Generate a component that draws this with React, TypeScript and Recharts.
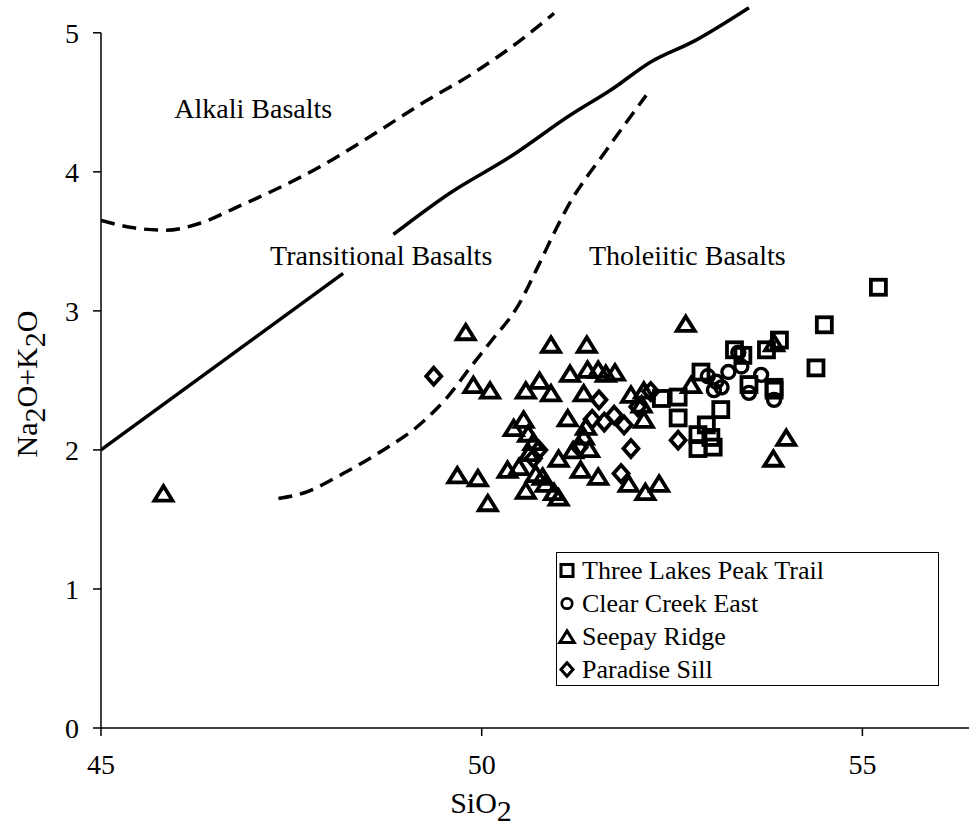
import React from 'react';
import { ScatterChart, Scatter, XAxis, YAxis, ReferenceLine, ReferenceDot, Legend } from 'recharts';

const FONT = 'Liberation Serif';

const xTicks = [45, 50, 55];
const yTicks = [0, 1, 2, 3, 4, 5];

const seriesNames = ['Three Lakes Peak Trail', 'Clear Creek East', 'Seepay Ridge', 'Paradise Sill'];

const threeLakesPeakTrail = [
  [55.21, 3.17], [54.5, 2.9], [54.39, 2.59], [53.91, 2.79], [53.84, 2.45], [53.32, 2.72],
  [53.43, 2.68], [53.74, 2.72], [52.88, 2.56], [53.51, 2.47], [53.14, 2.29], [52.95, 2.18],
  [52.84, 2.11], [53.01, 2.09], [52.84, 2.01], [53.04, 2.02], [52.58, 2.23], [52.58, 2.38],
  [52.36, 2.37], [53.84, 2.43],
];

const clearCreekEast = [
  [53.24, 2.56], [53.41, 2.6], [53.67, 2.54], [53.51, 2.41], [53.84, 2.36], [53.05, 2.43],
  [53.08, 2.49], [52.97, 2.53], [53.37, 2.7], [53.15, 2.45],
];

const seepayRidge = [
  [45.82, 1.69], [49.79, 2.85], [50.91, 2.76], [51.38, 2.76], [49.89, 2.47], [50.11, 2.43],
  [50.58, 2.43], [50.76, 2.5], [50.91, 2.41], [51.16, 2.55], [51.39, 2.58], [51.53, 2.58],
  [51.63, 2.55], [51.75, 2.56], [51.34, 2.41], [51.96, 2.4], [52.13, 2.43], [51.13, 2.23],
  [50.55, 2.22], [50.42, 2.16], [50.61, 2.12], [50.68, 2.06], [51.37, 2.17], [51.34, 2.1],
  [51.41, 2.01], [52.13, 2.22], [51.01, 1.94], [50.34, 1.86], [50.49, 1.88], [50.71, 1.83],
  [50.8, 1.81], [50.84, 1.76], [50.95, 1.7], [51.01, 1.66], [51.3, 1.86], [51.53, 1.81],
  [50.58, 1.71], [49.68, 1.82], [49.95, 1.8], [50.08, 1.62], [51.93, 1.76], [52.15, 1.7],
  [52.33, 1.76], [52.68, 2.91], [52.75, 2.47], [53.84, 2.77], [54.0, 2.09], [53.83, 1.94],
  [52.1, 2.33], [50.62, 1.98], [51.2, 2.0],
];

const paradiseSill = [
  [49.37, 2.53], [51.54, 2.36], [51.96, 2.01], [51.28, 2.02], [50.68, 1.94], [51.83, 1.83],
  [51.61, 2.2], [51.74, 2.25], [51.87, 2.18], [52.05, 2.31], [52.58, 2.07], [52.22, 2.42],
  [51.45, 2.22], [50.75, 2.0],
];

// Field boundaries
const solidBoundaryLower = [[45.0, 2.0], [48.18, 3.27]];
const solidBoundaryUpper = [
  [48.84, 3.55], [49.59, 3.85], [50.38, 4.11], [51.17, 4.41], [51.7, 4.59], [52.22, 4.79],
  [52.79, 4.94], [53.51, 5.18],
];
const alkaliBoundary = [
  [45.0, 3.65], [45.4, 3.6], [45.85, 3.58], [46.3, 3.63], [46.8, 3.75], [47.32, 3.88],
  [47.92, 4.05], [48.58, 4.27], [49.24, 4.5], [49.89, 4.71], [50.47, 4.93], [50.95, 5.14],
];
const tholeiiticBoundary = [
  [47.33, 1.65], [47.66, 1.69], [48.18, 1.83], [48.71, 2.0], [49.16, 2.17], [49.55, 2.38],
  [49.86, 2.6], [50.12, 2.78], [50.47, 3.03], [50.74, 3.32], [50.95, 3.56], [51.13, 3.75],
  [51.63, 4.15], [52.16, 4.55],
];

const regionLabels = [
  { text: 'Alkali Basalts', x: 47.0, y: 4.46 },
  { text: 'Transitional Basalts', x: 48.68, y: 3.4 },
  { text: 'Tholeiitic Basalts', x: 52.7, y: 3.4 },
];

const toPts = (arr: number[][]) => arr.map(([x, y]) => ({ x, y }));

const SW = 3.8;

const SquareShape = (p: any) => (
  <rect x={p.cx - 7.5} y={p.cy - 7.5} width={15} height={15} fill="none" stroke="#000" strokeWidth={SW} />
);
const CircleShape = (p: any) => (
  <circle cx={p.cx} cy={p.cy} r={6.5} fill="none" stroke="#000" strokeWidth={3.4} />
);
const TriangleShape = (p: any) => (
  <path
    d={`M${p.cx},${p.cy - 7} L${p.cx + 9},${p.cy + 7.5} L${p.cx - 9},${p.cy + 7.5} Z`}
    fill="none"
    stroke="#000"
    strokeWidth={SW}
    strokeLinejoin="miter"
  />
);
const DiamondShape = (p: any) => (
  <path
    d={`M${p.cx},${p.cy - 8.5} L${p.cx + 7.5},${p.cy} L${p.cx},${p.cy + 8.5} L${p.cx - 7.5},${p.cy} Z`}
    fill="none"
    stroke="#000"
    strokeWidth={SW}
  />
);
const NoShape = () => <g />;

const shapes = [SquareShape, CircleShape, TriangleShape, DiamondShape];

const renderLegend = () => (
  <div
    style={{
      width: 383,
      height: 134,
      boxSizing: 'border-box',
      border: '1.5px solid #000',
      background: '#fff',
      position: 'relative',
    }}
  >
    {seriesNames.map((name, i) => {
      const Shape = shapes[i];
      return (
        <div
          key={name}
          style={{ position: 'absolute', left: 0, top: 1 + i * 33, height: 33, width: 380 }}
        >
          <svg width={22} height={33} style={{ position: 'absolute', left: 0, top: 0 }}>
            <g transform="translate(10,16.5) scale(0.8) translate(-10,-16.5)">
              <Shape cx={10} cy={16.5} />
            </g>
          </svg>
          <span
            style={{
              position: 'absolute',
              left: 25,
              top: 0,
              lineHeight: '33px',
              whiteSpace: 'nowrap',
              fontFamily: FONT,
              fontSize: 26,
              color: '#000',
            }}
          >
            {name}
          </span>
        </div>
      );
    })}
  </div>
);

const XTitle = () => (
  <text x={481} y={813} textAnchor="middle" fill="#000" fontFamily={FONT} fontSize={30}>
    SiO<tspan dy={8}>2</tspan>
  </text>
);

const YTitle = () => (
  <text
    x={0}
    y={0}
    transform="translate(37,384) rotate(-90)"
    textAnchor="middle"
    fill="#000"
    fontFamily={FONT}
    fontSize={30}
  >
    Na<tspan dy={8}>2</tspan>
    <tspan dy={-8}>O+K</tspan>
    <tspan dy={8}>2</tspan>
    <tspan dy={-8}>O</tspan>
  </text>
);

const XTick = (p: any) => (
  <text x={p.x} y={p.y} dy="0.71em" textAnchor="middle" fill="#000" fontFamily={FONT} fontSize={28}>
    {p.payload.value}
  </text>
);
const YTick = (p: any) => (
  <text x={p.x} y={p.y} dy="0.355em" textAnchor="end" fill="#000" fontFamily={FONT} fontSize={28}>
    {p.payload.value}
  </text>
);

const lineStyle = (dashed: boolean) => ({
  stroke: '#000',
  strokeWidth: 3.5,
  fill: 'none',
  strokeDasharray: dashed ? '14 8' : undefined,
});

export default function App() {
  return (
    <div style={{ position: 'absolute', left: 0, top: 0, width: 969, height: 828, background: '#fff' }}>
      <ScatterChart width={969} height={828} margin={{ top: 5, right: 0, left: 0, bottom: 0 }}>
        <XAxis
          type="number"
          dataKey="x"
          domain={[45, 56.4]}
          ticks={xTicks}
          interval={0}
          allowDataOverflow
          height={100}
          tickSize={8}
          tickMargin={18}
          tick={XTick}
          axisLine={{ stroke: '#000', strokeWidth: 1.5 }}
          tickLine={{ stroke: '#000', strokeWidth: 1.5 }}
          label={{ content: XTitle }}
        />
        <YAxis
          type="number"
          dataKey="y"
          domain={[0, 5.2]}
          ticks={yTicks}
          interval={0}
          allowDataOverflow
          width={101}
          tickSize={8}
          tickMargin={14}
          tick={YTick}
          axisLine={false}
          tickLine={{ stroke: '#000', strokeWidth: 1.5 }}
          label={{ content: YTitle }}
        />
        <ReferenceLine
          segment={[{ x: 45, y: 0 }, { x: 45, y: 5 }]}
          stroke="#000"
          strokeWidth={1.5}
          ifOverflow="visible"
        />
        <Scatter data={toPts(solidBoundaryLower)} shape={NoShape} line={lineStyle(false)} lineJointType="linear" isAnimationActive={false} legendType="none" />
        <Scatter data={toPts(solidBoundaryUpper)} shape={NoShape} line={lineStyle(false)} lineJointType="monotoneX" isAnimationActive={false} legendType="none" />
        <Scatter data={toPts(alkaliBoundary)} shape={NoShape} line={lineStyle(true)} lineJointType="monotoneX" isAnimationActive={false} legendType="none" />
        <Scatter data={toPts(tholeiiticBoundary)} shape={NoShape} line={lineStyle(true)} lineJointType="monotoneX" isAnimationActive={false} legendType="none" />

        <Scatter name={seriesNames[1]} data={toPts(clearCreekEast)} shape={CircleShape} isAnimationActive={false} />
        <Scatter name={seriesNames[2]} data={toPts(seepayRidge)} shape={TriangleShape} isAnimationActive={false} />
        <Scatter name={seriesNames[3]} data={toPts(paradiseSill)} shape={DiamondShape} isAnimationActive={false} />
        <Scatter name={seriesNames[0]} data={toPts(threeLakesPeakTrail)} shape={SquareShape} isAnimationActive={false} />

        {regionLabels.map((r) => (
          <ReferenceDot
            key={r.text}
            x={r.x}
            y={r.y}
            r={0}
            fill="none"
            stroke="none"
            ifOverflow="visible"
            label={{ value: r.text, position: 'center', fill: '#000', fontSize: 28, fontFamily: FONT }}
          />
        ))}
        <Legend
          layout="vertical"
          align="center"
          verticalAlign="middle"
          width={383}
          height={134}
          wrapperStyle={{ left: 556, top: 552, width: 383, height: 134 }}
          content={renderLegend}
        />
      </ScatterChart>
    </div>
  );
}
